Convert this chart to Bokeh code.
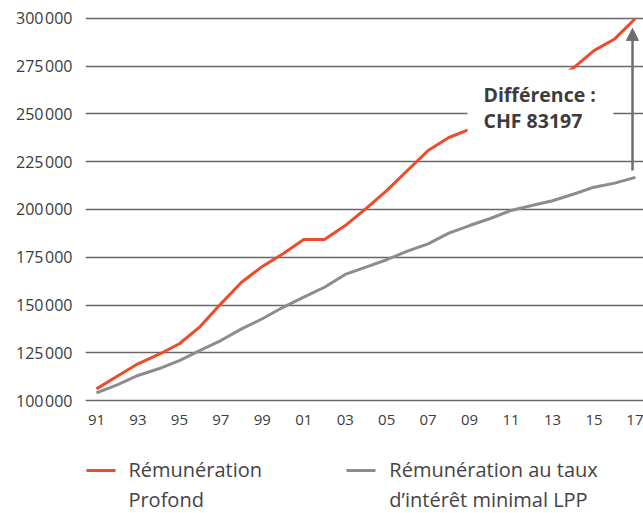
from bokeh.plotting import figure
from bokeh.models import Range1d, FixedTicker, BoxAnnotation, Label, Arrow, NormalHead
from bokeh.embed import file_html
from bokeh.resources import INLINE
from bokeh.core.properties import value

# ---- data ----
years = list(range(1991, 2018))
profond = [106100, 112700, 119200, 124100, 129700, 138700, 150600, 161900, 170200,
           176800, 184300, 184300, 191600, 200500, 209900, 220400, 230900, 237700,
           241900, 248500, 255000, 261500, 267500, 274000, 283200, 289300, 300000]
lpp = [104000, 108200, 113100, 116600, 120900, 126200, 131400, 137500, 142800,
       148800, 154100, 159300, 166000, 169800, 173700, 178200, 182000, 187600,
       191600, 195300, 199500, 202100, 204600, 208000, 211700, 213800, 216803]
x_ticks = list(range(1991, 2018, 2))
x_tick_labels = ["91", "93", "95", "97", "99", "01", "03", "05", "07", "09",
                 "11", "13", "15", "17"]
y_ticks = [100000, 125000, 150000, 175000, 200000, 225000, 250000, 275000, 300000]
y_tick_labels = ["100\u200a000", "125\u200a000", "150\u200a000", "175\u200a000",
                 "200\u200a000", "225\u200a000", "250\u200a000", "275\u200a000",
                 "300\u200a000"]
diff_lines = ["Différence :", "CHF 83197"]
series_names = [["Rémunération", "Profond"],
                ["Rémunération au taux", "d\u2019intérêt minimal LPP"]]

RED = "#ef4b2b"
GRAY = "#8c8c8c"
ARROW = "#6d6e71"
TXT = "#3c3c3c"
FONT = "Open Sans"

# ---- chart (frame runs to the bottom so the legend can live inside it) ----
p = figure(width=643, height=513, output_backend="svg", toolbar_location=None,
           x_range=Range1d(1990.47, 2017.39), y_range=Range1d(40838, 303141),
           min_border_left=85, min_border_right=0, min_border_top=12, min_border_bottom=0)
p.outline_line_color = None
p.background_fill_color = "white"
p.border_fill_color = "white"
p.xgrid.visible = False
p.ygrid.ticker = FixedTicker(ticks=y_ticks)
p.ygrid.grid_line_color = "#686868"
p.ygrid.grid_line_width = 1.3

for ax in (p.xaxis[0], p.yaxis[0]):
    ax.axis_line_color = None
    ax.major_tick_line_color = None
    ax.minor_tick_line_color = None
    ax.major_tick_out = 0
    ax.major_label_text_font = FONT
    ax.major_label_text_color = TXT

p.xaxis.fixed_location = 98953
p.xaxis.ticker = FixedTicker(ticks=x_ticks)
p.xaxis.major_label_overrides = dict(zip(x_ticks, x_tick_labels))
p.xaxis.major_label_text_font_size = "15px"
p.xaxis.major_label_standoff = 12

p.yaxis.ticker = FixedTicker(ticks=y_ticks)
p.yaxis.major_label_overrides = dict(zip(y_ticks, y_tick_labels))
p.yaxis.major_label_text_font_size = "16px"
p.yaxis.major_label_standoff = 13

p.line(years, lpp, line_color=GRAY, line_width=3)
p.line(years, profond, line_color=RED, line_width=3)

# white box behind the difference label
p.add_layout(BoxAnnotation(left=2008.9, right=2015.93, top=273300, bottom=236100,
                           fill_color="white", fill_alpha=1.0, line_alpha=0))
for txt, yv in zip(diff_lines, [260370, 246440]):
    p.add_layout(Label(x=2009.67, y=yv, text=txt, text_font=FONT, text_font_size="19.5px",
                       text_font_style="bold", text_color=TXT, text_baseline="alphabetic"))

ax_x = years[-1] - 0.14
p.add_layout(Arrow(end=NormalHead(size=12, fill_color=ARROW, line_color=ARROW),
                   x_start=ax_x, y_start=lpp[-1] + 3600, x_end=ax_x, y_end=profond[-1] - 5200,
                   line_color=ARROW, line_width=2.5))

# ---- legend (below the x axis, inside the extended frame) ----
row_y = [63880, 48170]
sample_y = 63350
sample_x0 = [1990.52, 2003.06]
sample_x1 = [1991.92, 2004.46]
text_x = [1992.54, 2005.13]
p.segment(x0=sample_x0, y0=[sample_y] * 2, x1=sample_x1, y1=[sample_y] * 2,
          line_color=[RED, GRAY], line_width=3)
p.text(x=[text_x[0], text_x[0], text_x[1], text_x[1]], y=row_y + row_y,
       text=[series_names[0][0], series_names[0][1], series_names[1][0], series_names[1][1]],
       text_font=value(FONT), text_font_size="20px", text_color="#444444",
       text_baseline="middle", text_align="left")

open("out.html", "w").write(file_html(p, INLINE))
